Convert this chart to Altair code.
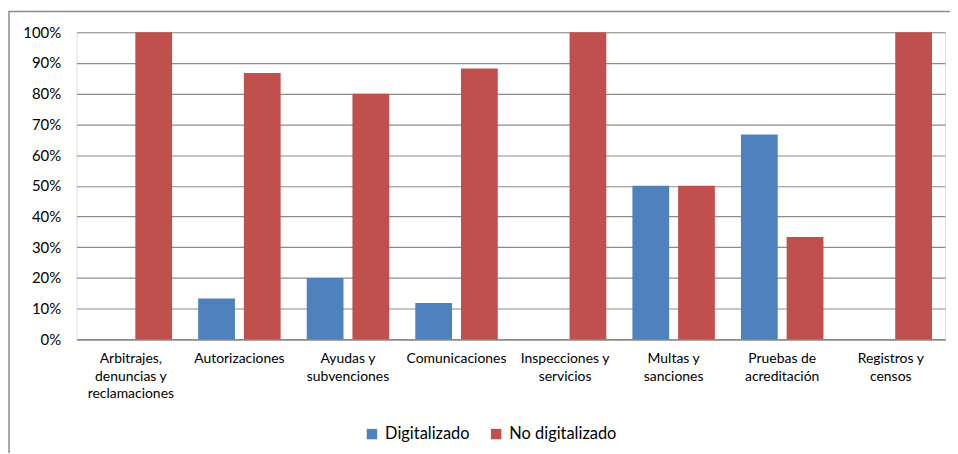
import altair as alt
import pandas as pd

categories = [
    "Arbitrajes,|denuncias y|reclamaciones",
    "Autorizaciones",
    "Ayudas y|subvenciones",
    "Comunicaciones",
    "Inspecciones y|servicios",
    "Multas y|sanciones",
    "Pruebas de|acreditación",
    "Registros y|censos",
]
series = ["Digitalizado", "No digitalizado"]
digitalizado = [0.0, 0.133, 0.20, 0.118, 0.0, 0.50, 0.667, 0.0]
no_digitalizado = [1.0, 0.867, 0.80, 0.882, 1.0, 0.50, 0.333, 1.0]
y_ticks = [0, 0.1, 0.2, 0.3, 0.4, 0.5, 0.6, 0.7, 0.8, 0.9, 1.0]
colors = ["#4F81BD", "#C0504D"]

rows = []
for c, d, n in zip(categories, digitalizado, no_digitalizado):
    rows.append({"cat": c, "serie": series[0], "val": d})
    rows.append({"cat": c, "serie": series[1], "val": n})
df = pd.DataFrame(rows)

FONT = "Lato"
GRID = "#8c8c8c"

bars = alt.Chart(df).mark_bar(size=37).encode(
    x=alt.X("cat:N", sort=categories, title=None,
            scale=alt.Scale(paddingInner=0, paddingOuter=0),
            axis=alt.Axis(labelAngle=0, labelExpr="split(datum.label, '|')",
                          labelFont=FONT, labelFontSize=14, labelColor="#000000",
                          labelLineHeight=18, labelPadding=12, labelBaseline="top",
                          ticks=False, domainColor=GRID, domainWidth=1.5,
                          labelLimit=200)),
    xOffset=alt.XOffset("serie:N", sort=series,
                        scale=alt.Scale(paddingInner=0.196, paddingOuter=0.2855)),
    y=alt.Y("val:Q", title=None,
            scale=alt.Scale(domain=[0, 1], nice=False),
            axis=alt.Axis(values=y_ticks, format=".0%", labelFont=FONT,
                          labelFontSize=15, labelColor="#000000", ticks=False,
                          domain=False, gridColor=GRID, gridWidth=1.2,
                          labelPadding=16)),
    color=alt.Color("serie:N", sort=series,
                    scale=alt.Scale(domain=series, range=colors),
                    legend=alt.Legend(title=None, orient="none", direction="horizontal",
                                      legendX=289, legendY=396, symbolType="square",
                                      symbolSize=110, symbolStrokeWidth=0,
                                      labelFont=FONT, labelFontSize=16.5,
                                      labelColor="#000000", columnPadding=18,
                                      labelOffset=5)),
)

frame = alt.Chart(pd.DataFrame({"a": [0]})).mark_rect(
    filled=False, stroke="#8c8c8c", strokeWidth=1.5
).encode(
    x=alt.value(-68), x2=alt.value(1000), y=alt.value(-21), y2=alt.value(600)
)

chart = alt.layer(frame, bars).properties(
    width=874, height=309,
    autosize=alt.AutoSizeParams(type="none"),
    padding={"left": 69, "top": 23, "right": 5, "bottom": 113},
).configure_view(stroke=None).configure(background="white")

chart.save("out.html", embed_options={"renderer": "svg", "actions": False})
